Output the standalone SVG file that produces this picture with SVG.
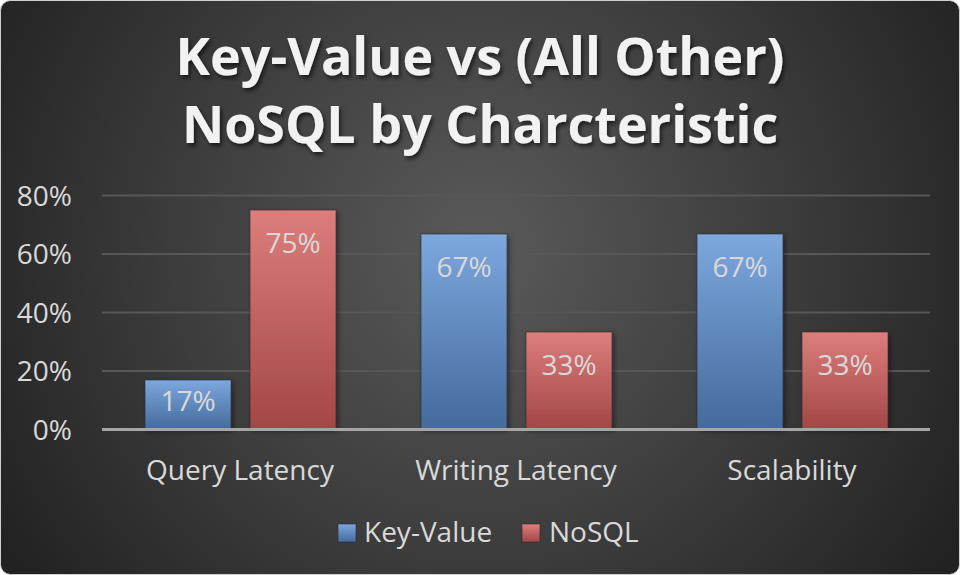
<svg xmlns="http://www.w3.org/2000/svg" width="960" height="575" viewBox="0 0 960 575">
  <defs>
    <radialGradient id="bg" cx="480" cy="250" r="560" gradientUnits="userSpaceOnUse">
      <stop offset="0" stop-color="#5a5a5a"/>
      <stop offset="0.55" stop-color="#3c3c3c"/>
      <stop offset="1" stop-color="#222222"/>
    </radialGradient>
    <linearGradient id="blue" x1="0" y1="0" x2="0" y2="1">
      <stop offset="0" stop-color="#7da8de"/>
      <stop offset="1" stop-color="#446a9c"/>
    </linearGradient>
    <linearGradient id="red" x1="0" y1="0" x2="0" y2="1">
      <stop offset="0" stop-color="#dc7e7c"/>
      <stop offset="1" stop-color="#a34646"/>
    </linearGradient>
    <filter id="shadow" x="-20%" y="-20%" width="140%" height="140%">
      <feDropShadow dx="2" dy="2" stdDeviation="2.5" flood-color="#000" flood-opacity="0.45"/>
    </filter>
    <filter id="tshadow" x="-10%" y="-20%" width="120%" height="150%">
      <feDropShadow dx="2" dy="3" stdDeviation="2" flood-color="#000" flood-opacity="0.6"/>
    </filter>
  </defs>
  <style>
    .title { font-family: "Open Sans", "DejaVu Sans", sans-serif; font-weight: bold; font-size: 52px; fill: #f2f2f2; text-anchor: middle; }
    .axis { font-family: "Open Sans", "DejaVu Sans", sans-serif; font-size: 28px; fill: #d9d9d9; }
    .val { font-family: "Open Sans", "DejaVu Sans", sans-serif; font-size: 28px; fill: #d9d9d9; text-anchor: middle; }
    .grid { stroke: #575757; stroke-width: 2; }
    .bar { stroke: #2a2a2a; stroke-opacity: 0.6; stroke-width: 1; filter: url(#shadow); }
  </style>

  <!-- chart area background -->
  <rect x="0.5" y="0.5" width="959" height="574" rx="10" fill="url(#bg)" stroke="#d0d0d0" stroke-width="1"/>

  <!-- title -->
  <g id="title" filter="url(#tshadow)">
    <text class="title" x="480" y="75">Key-Value vs (All Other)</text>
    <text class="title" x="480" y="143">NoSQL by Charcteristic</text>
  </g>

  <!-- gridlines -->
  <g id="gridlines">
    <line class="grid" x1="102" y1="195.5" x2="930" y2="195.5"/>
    <line class="grid" x1="102" y1="254" x2="930" y2="254"/>
    <line class="grid" x1="102" y1="312.5" x2="930" y2="312.5"/>
    <line class="grid" x1="102" y1="371" x2="930" y2="371"/>
  </g>

  <!-- value axis labels -->
  <g id="value-axis" class="axis" text-anchor="end">
    <text x="72" y="206">80%</text>
    <text x="72" y="264">60%</text>
    <text x="72" y="323">40%</text>
    <text x="72" y="381">20%</text>
    <text x="72" y="440">0%</text>
  </g>

  <!-- bars -->
  <g id="series-key-value">
    <rect class="bar" x="145" y="380" width="86" height="49" fill="url(#blue)"/>
    <rect class="bar" x="421" y="234" width="86" height="195" fill="url(#blue)"/>
    <rect class="bar" x="697" y="234" width="86" height="195" fill="url(#blue)"/>
  </g>
  <g id="series-nosql">
    <rect class="bar" x="250" y="210" width="86" height="219" fill="url(#red)"/>
    <rect class="bar" x="526" y="332" width="86" height="97" fill="url(#red)"/>
    <rect class="bar" x="802" y="332" width="86" height="97" fill="url(#red)"/>
  </g>

  <!-- data labels -->
  <g id="data-labels" class="val">
    <text x="188" y="411">17%</text>
    <text x="293" y="253">75%</text>
    <text x="464" y="277">67%</text>
    <text x="569" y="375">33%</text>
    <text x="740" y="277">67%</text>
    <text x="845" y="375">33%</text>
  </g>

  <!-- category axis -->
  <line id="baseline" x1="102" y1="429.5" x2="930" y2="429.5" stroke="#a6a6a6" stroke-width="3"/>
  <g id="category-axis" class="axis" text-anchor="middle">
    <text x="240" y="480">Query Latency</text>
    <text x="516" y="480">Writing Latency</text>
    <text x="792" y="480">Scalability</text>
  </g>

  <!-- legend -->
  <g id="legend" class="axis">
    <rect x="338" y="524" width="18" height="18" fill="url(#blue)" stroke="#2a2a2a" stroke-opacity="0.6"/>
    <text x="364" y="542">Key-Value</text>
    <rect x="522" y="524" width="18" height="18" fill="url(#red)" stroke="#2a2a2a" stroke-opacity="0.6"/>
    <text x="549" y="542">NoSQL</text>
  </g>
</svg>
